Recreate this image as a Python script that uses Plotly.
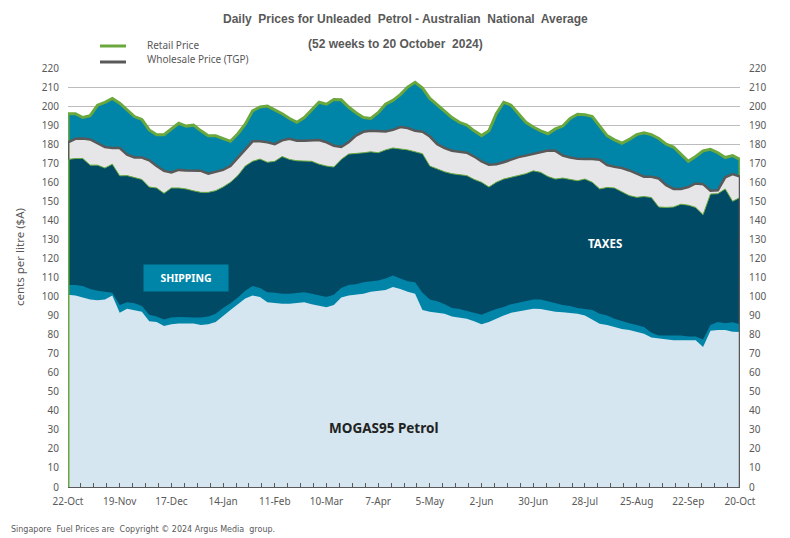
import pandas as pd
import plotly.graph_objects as go

# sample dates: every 4 days, 22-Oct-2023 .. 20-Oct-2024
dates = pd.date_range("2023-10-22", periods=92, freq="4D")

retail = [196, 196, 194, 195, 200.5, 202, 204, 201.5, 198, 194.5,
          193, 187.5, 185, 185, 188, 191, 189.5, 190, 187, 184.4,
          184.4, 183, 181.5, 185.5, 190.5, 197.5, 199.5, 200, 198, 196,
          193.5, 191.5, 194, 198, 202, 201, 203.5, 203.3, 199.5, 196.5,
          194, 193.5, 196.5, 201, 203, 206, 210, 212.5, 209.5, 204,
          200.5, 197, 194, 191.5, 190, 187, 184.5, 187, 196, 202,
          200.5, 196, 191.5, 189, 187, 185.5, 188, 189.5, 193.5, 195.7,
          195.5, 194.5, 189.5, 184.5, 182.3, 180.5, 182.5, 185, 186, 185,
          183, 180, 178.5, 174.5, 171, 173.5, 176.5, 177.3, 175.5, 173,
          174, 172]

tgp = [181, 182.8, 183, 182.5, 180.5, 178.5, 178, 178, 174.5, 173,
       173, 171.5, 168.5, 166, 165.2, 166.5, 166.2, 166, 166, 164.5,
       165.5, 166.5, 168.5, 173, 177.5, 181.5, 181.5, 181, 180, 182,
       182.8, 181.8, 181.8, 182, 182.2, 181, 179.2, 178.6, 181, 184.5,
       186.5, 187, 187, 186.7, 187.5, 189, 188.5, 187, 186.5, 184,
       180, 178, 176.5, 175.8, 175.5, 173.5, 171, 169.2, 169.5, 170.5,
       171.8, 173.2, 174, 175, 175.6, 176.7, 176.5, 174, 173, 172.4,
       172.2, 172.2, 171.8, 169, 168.2, 167.5, 166.2, 164.5, 162.9, 162.9,
       162, 158.5, 156.5, 156.5, 157.5, 159.4, 159, 155.6, 155.8, 162.6,
       164.3, 163]

taxes_top = [172, 172.5, 172.5, 169, 169, 167.5, 169.5, 163.4, 163.5, 162.5,
             161.5, 157.5, 157, 154.2, 157, 157, 156.5, 155.5, 154.7, 154.7,
             155.6, 157.5, 160, 163.5, 168.5, 171, 172.2, 170.5, 171, 173.5,
             172, 171.3, 171.3, 171, 169.5, 168.5, 168, 172, 174.8, 175,
             175.5, 176, 175.5, 177, 178, 177.5, 177, 176, 175, 168.5,
             167, 165.5, 164.5, 164, 163.5, 161.5, 160, 157.5, 160, 161.7,
             162.5, 163.5, 164.5, 166, 165.2, 163, 161.7, 162.2, 161.5, 160.8,
             161.7, 160, 156.5, 157.3, 157, 155, 153, 152.1, 152.5, 152,
             147, 146.8, 147, 148.5, 148, 146.8, 143, 153.8, 154, 156.5,
             150, 152]

shipping_top = [106, 106, 105.5, 104, 103, 102.5, 102, 95.5, 97, 96.5,
                95, 90.5, 89.5, 88, 89, 89.2, 89, 89, 89, 89.5,
                91, 94, 96.5, 99.5, 103, 105.5, 104.5, 102.3, 102, 101.5,
                101.5, 102, 102.3, 101.5, 100.5, 99.7, 101, 104.5, 106, 106.5,
                107.5, 108, 108.4, 109.5, 111, 109.5, 108, 107.5, 102, 98.5,
                97.5, 96, 94, 93.5, 92.5, 91.5, 90.5, 92, 93.5, 94.5,
                96, 96.8, 97.5, 98.5, 98.5, 97.5, 96.5, 95.5, 95, 94,
                93.5, 93, 91, 90, 88.4, 87, 86, 85, 84, 81,
                79.6, 79.6, 79.6, 79.5, 79, 79, 77.5, 85, 86.6, 86,
                86.5, 85.5]

mogas = [101, 100.5, 99.5, 98.5, 98, 98.5, 100.5, 91.5, 93.6, 93,
         92, 87, 86.6, 84.5, 85.5, 85.8, 85.8, 85.8, 85, 85.5,
         86.6, 90, 93, 96, 99, 100.6, 99.7, 97, 96.5, 96.2,
         96.2, 96.5, 97, 96, 95, 94.4, 95.5, 99.5, 100.5, 101,
         101.5, 102.5, 103, 103.5, 105, 104, 102.5, 101.5, 93, 92,
         91.5, 91, 89.5, 89, 88.4, 87, 85.5, 86.6, 88.5, 90,
         91.5, 92.3, 93, 93.6, 93.5, 92.8, 92, 91.8, 91.5, 91,
         90, 88, 85.7, 85, 84, 83, 82.5, 81.5, 80.5, 78.5,
         78, 77.5, 77, 77, 77, 77, 73.5, 82, 82.5, 82.5,
         81.5, 81.4]

TEAL = "#0085a8"
NAVY = "#004a66"
GREY_FILL = "#e6e6e8"
LIGHT = "#d5e6f0"
GREEN = "#6aa83e"
DGREY = "#595959"
TXT = "#595959"

x = list(dates)
fig = go.Figure()

def area(y, color):
    fig.add_trace(go.Scatter(x=x, y=y, mode="lines", fill="tozeroy",
                             fillcolor=color, line=dict(width=0, color=color),
                             showlegend=False, hoverinfo="skip"))

area(retail, TEAL)
area(tgp, GREY_FILL)
area(taxes_top, NAVY)
area(shipping_top, TEAL)
area(mogas, LIGHT)

# outlines
fig.add_trace(go.Scatter(x=x + [x[-1]], y=taxes_top + [0], mode="lines",
                         line=dict(color=GREEN, width=1), showlegend=False, hoverinfo="skip"))
fig.add_trace(go.Scatter(x=[x[0]] + x + [x[-1]], y=[0] + retail + [tgp[-1]], mode="lines",
                         line=dict(color=GREEN, width=3), showlegend=False, hoverinfo="skip"))
fig.add_trace(go.Scatter(x=[x[0]] + x + [x[-1]], y=[taxes_top[0]] + tgp + [0], mode="lines",
                         line=dict(color=DGREY, width=2.5), showlegend=False, hoverinfo="skip"))
# dummy for right axis
fig.add_trace(go.Scatter(x=[x[0]], y=[0], mode="none", yaxis="y2",
                         showlegend=False, hoverinfo="skip"))

tickfont = dict(family="Noto Sans", size=10, color=TXT)
ms_day = 86400000
# page body has an 8px margin, so shift the figure's margins by 8px
fig.update_layout(
    width=790, height=538,
    margin=dict(l=60, r=58, t=60, b=59, autoexpand=False),
    paper_bgcolor="white", plot_bgcolor="white",
    showlegend=False,
    xaxis=dict(type="date", range=["2023-10-22", "2024-10-20"],
               tick0="2023-10-22", dtick=28 * ms_day, tickformat="%-d-%b",
               tickfont=tickfont, showgrid=False, zeroline=False,
               showline=True, linecolor=DGREY, linewidth=1,
               ticks="inside", ticklen=4, tickcolor=DGREY, ticklabelstandoff=5,
               minor=dict(dtick=7 * ms_day, tick0="2023-10-22", ticks="inside",
                          ticklen=4, tickcolor=DGREY, showgrid=False),
               layer="above traces", automargin=False),
    yaxis=dict(range=[0, 220], dtick=10, tickfont=tickfont, showgrid=True,
               gridcolor="#bcbcbc", gridwidth=1, zeroline=False, showline=False,
               ticks="", ticklabelstandoff=8, layer="above traces", automargin=False),
    yaxis2=dict(range=[0, 220], dtick=10, tickfont=tickfont, overlaying="y",
                side="right", matches="y", showgrid=False, zeroline=False,
                showline=False, ticks="", ticklabelstandoff=8, automargin=False),
)

def px_x(p):
    return (p - 68) / 672

def px_y(p):
    return (487 - p) / 419

shapes = [
    dict(type="rect", xref="paper", yref="paper", x0=px_x(84), x1=px_x(252),
         y0=px_y(70), y1=px_y(36), fillcolor="white", line=dict(width=0), layer="above"),
    dict(type="line", xref="paper", yref="paper", x0=px_x(100), x1=px_x(126),
         y0=px_y(46), y1=px_y(46), line=dict(color=GREEN, width=3)),
    dict(type="line", xref="paper", yref="paper", x0=px_x(100), x1=px_x(126),
         y0=px_y(62), y1=px_y(62), line=dict(color=DGREY, width=3)),
]
fig.update_layout(shapes=shapes)

def pa(text, px, py, size, family="Noto Sans", color=TXT, xanchor="center", **kw):
    return dict(text=text, xref="paper", yref="paper", x=px_x(px), y=px_y(py),
                xanchor=xanchor, yanchor="middle", showarrow=False,
                font=dict(family=family, size=size, color=color), **kw)

ann = [
    pa("<b>Daily  Prices for Unleaded  Petrol - Australian  National  Average</b>", 405, 19, 12,
       family="Liberation Sans"),
    pa("<b>(52 weeks to 20 October  2024)</b>", 395, 44, 12, family="Liberation Sans"),
    pa("Retail Price", 145, 45, 10, xanchor="left"),
    pa("Wholesale Price (TGP)", 145, 59, 10, xanchor="left"),
    pa("cents per litre ($A)", 19, 257, 11.5, textangle=-90),
    pa("Singapore  Fuel Prices are  Copyright © 2024 Argus Media  group.", 9, 529, 8,
       family="DejaVu Sans", xanchor="left"),
    dict(text="<b>SHIPPING</b>", x=pd.Timestamp("2023-12-25"), y=110, xref="x", yref="y",
         showarrow=False, bgcolor=TEAL, width=76, height=18, borderpad=4,
         xanchor="center", yanchor="middle",
         font=dict(family="Noto Sans", size=10.5, color="white")),
    dict(text="<b>TAXES</b>", x=pd.Timestamp("2024-08-08"), y=127.8, xref="x", yref="y",
         showarrow=False, xanchor="center", yanchor="middle",
         font=dict(family="Noto Sans", size=11.5, color="white")),
    dict(text="<b>MOGAS95 Petrol</b>", x=pd.Timestamp("2024-04-10"), y=30.9, xref="x", yref="y",
         showarrow=False, xanchor="center", yanchor="middle",
         font=dict(family="Noto Sans", size=13.5, color="#222222")),
]
fig.update_layout(annotations=ann)

fig.write_html("out.html")
